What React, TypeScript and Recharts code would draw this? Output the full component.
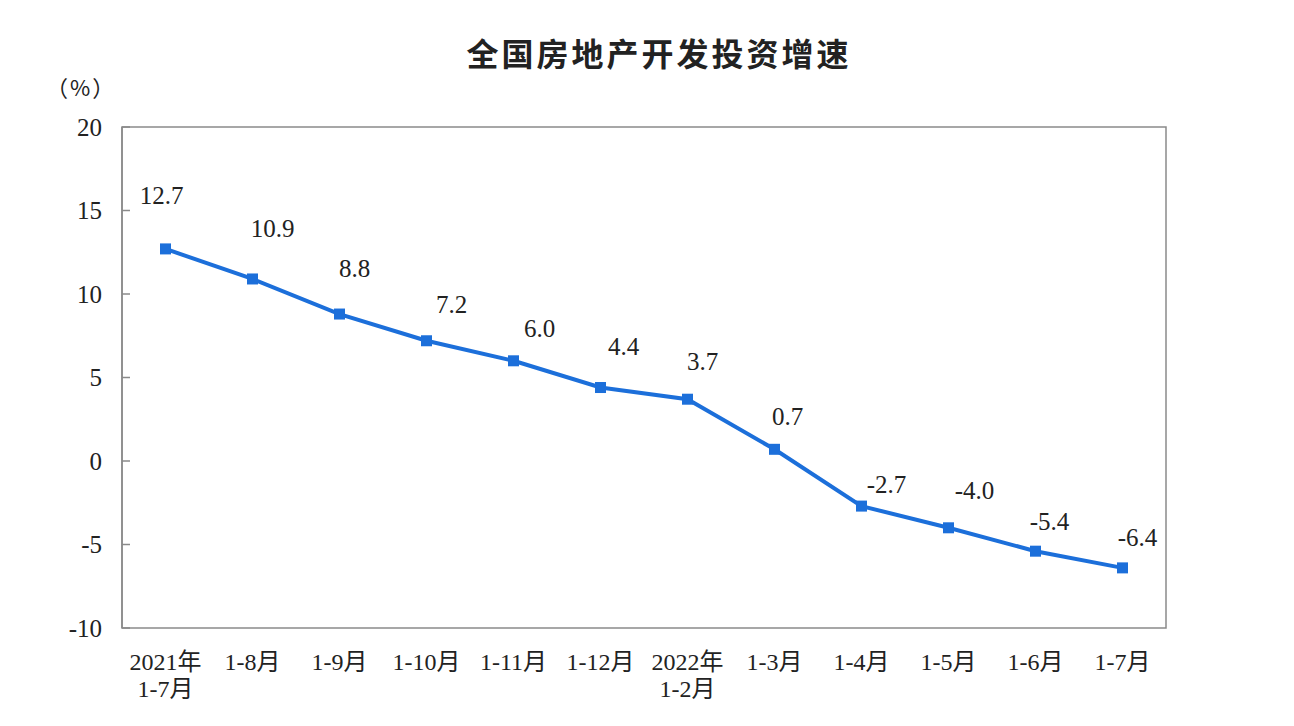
import { LineChart, Line, XAxis, YAxis, ReferenceArea, LabelList } from 'recharts'

const categories = ['2021年\n1-7月', '1-8月', '1-9月', '1-10月', '1-11月', '1-12月', '2022年\n1-2月', '1-3月', '1-4月', '1-5月', '1-6月', '1-7月']
const growth = [12.7, 10.9, 8.8, 7.2, 6.0, 4.4, 3.7, 0.7, -2.7, -4.0, -5.4, -6.4]
const yTicks = [-10, -5, 0, 5, 10, 15, 20]
const edgeTicks = [1, 2, 3, 4, 5, 6, 7, 8, 9, 10, 11]

// hand nudges for the value labels, like in the source picture
const labelNudge: [number, number][] = [
  [-4, -53], [20, -50], [15, -46], [25, -36], [26, -32], [23, -41],
  [15, -38], [13, -33], [25, -22], [26, -37], [14, -30], [15, -30],
]

const data = categories.map((c, i) => ({ cat: c, v: growth[i] }))

const BLUE = '#1C6FDA'
const AXIS = '#8a8a8a'
const TEXT = '#222'
const FONT = "'Liberation Serif', 'Noto Sans CJK SC', serif"

function XTick(props: any) {
  const { x, y, payload } = props
  const lines = String(payload.value).split('\n')
  return (
    <text x={x} y={y} textAnchor="middle" fill={TEXT} fontSize={24} fontFamily={FONT}>
      {lines.map((l, i) => (
        <tspan key={i} x={x} dy={i === 0 ? 42 : 27}>{l}</tspan>
      ))}
    </text>
  )
}

function SquareDot(props: any) {
  const { cx, cy } = props
  if (cx == null || cy == null) return null
  return <rect x={cx - 5.5} y={cy - 5.5} width={11} height={11} fill={BLUE} />
}

function ValueLabel(props: any) {
  const { x, y, value, index } = props
  const [dx, dy] = labelNudge[index] ?? [0, -30]
  return (
    <text x={x + dx} y={y + dy} textAnchor="middle" dominantBaseline="central"
      fill={TEXT} fontSize={25} fontFamily={FONT}>
      {Number(value).toFixed(1)}
    </text>
  )
}

export default function App() {
  return (
    <div style={{ position: 'absolute', left: 0, top: 0, width: 1294, height: 726, background: '#fff' }}>
      <div style={{
        position: 'absolute', left: 12, width: 1294, top: 30, textAlign: 'center',
        fontFamily: "'Noto Sans CJK SC', sans-serif", fontWeight: 700, fontSize: 32,
        letterSpacing: 3, color: TEXT, lineHeight: '44px',
      }}>
        全国房地产开发投资增速
      </div>
      <div style={{
        position: 'absolute', left: 46, top: 71, fontFamily: "'Noto Sans CJK SC', sans-serif",
        fontSize: 22, color: TEXT, lineHeight: '30px', letterSpacing: 2,
      }}>
        （%）
      </div>
      <LineChart width={1294} height={726} data={data}
        margin={{ top: 127, right: 128, left: 0, bottom: 28 }}>
        <XAxis xAxisId="edge" type="number" domain={[0, 12]} ticks={edgeTicks}
          allowDataOverflow tick={false} tickSize={-8} height={0}
          axisLine={{ stroke: AXIS, strokeWidth: 1.5 }} tickLine={{ stroke: AXIS, strokeWidth: 1.5 }} />
        <XAxis dataKey="cat" scale="band" height={70} interval={0} tick={<XTick />}
          axisLine={false} tickLine={false} tickSize={0} tickMargin={0} />
        <YAxis domain={[-10, 20]} ticks={yTicks} width={122} tickSize={-8} tickMargin={28}
          axisLine={{ stroke: AXIS, strokeWidth: 1.5 }} tickLine={{ stroke: AXIS, strokeWidth: 1.5 }}
          tick={{ fill: TEXT, fontSize: 25, fontFamily: FONT }} />
        <ReferenceArea y1={-10} y2={20} fill="none" stroke={AXIS} strokeWidth={1.5} />
        <Line dataKey="v" stroke={BLUE} strokeWidth={4} dot={<SquareDot />} activeDot={false}
          isAnimationActive={false}>
          <LabelList dataKey="v" content={<ValueLabel />} />
        </Line>
      </LineChart>
    </div>
  )
}
